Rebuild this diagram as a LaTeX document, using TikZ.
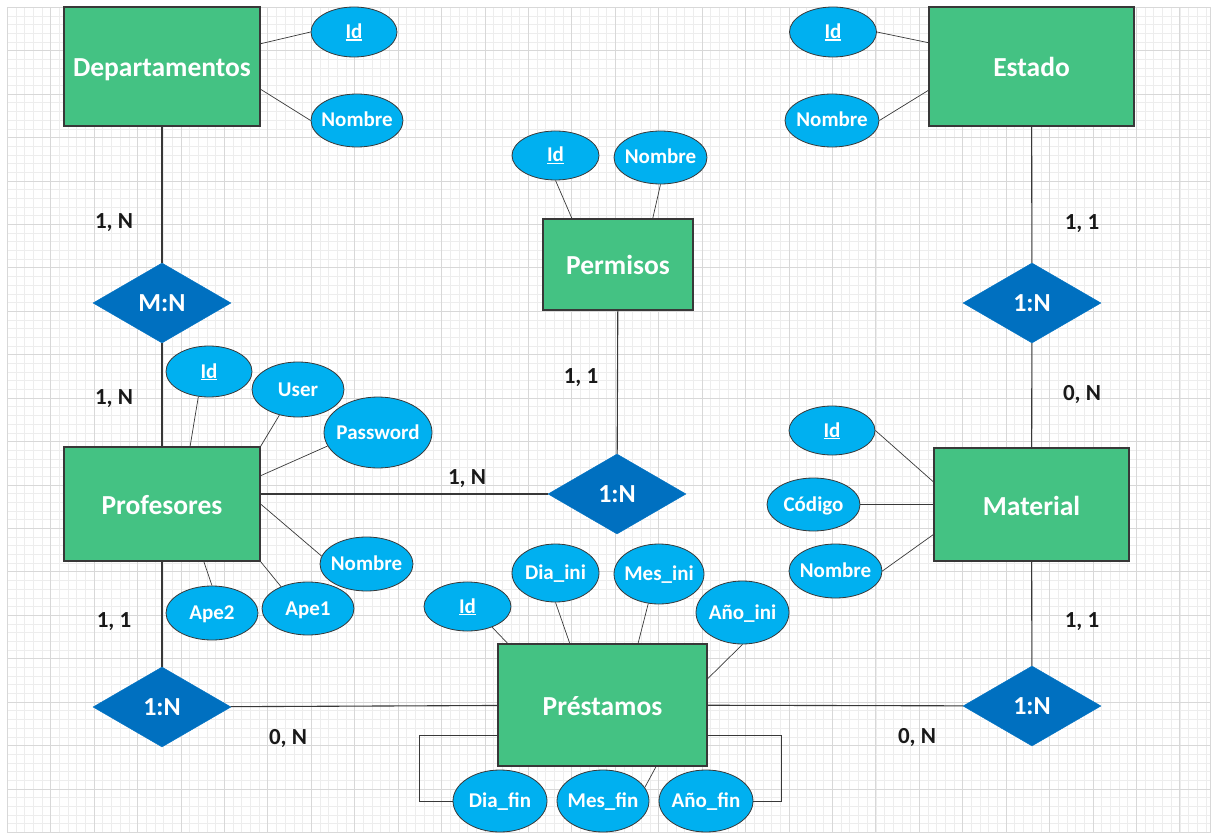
\documentclass[tikz,border=0pt]{standalone}
\usepackage{fontspec}
\setmainfont{Carlito}
\usetikzlibrary{shapes.geometric}
\definecolor{verde}{HTML}{44C283}
\definecolor{celeste}{HTML}{00B0F0}
\definecolor{azul}{HTML}{0070C0}
\definecolor{borde}{HTML}{383838}
\definecolor{rejilla}{HTML}{EDEDED}
\definecolor{rejillab}{HTML}{D8D8D8}
\newcommand{\etq}[1]{\makebox[0pt]{#1}}
\newcommand{\clave}[1]{\setbox0\hbox{#1}\rlap{\rule[-2.2pt]{\wd0}{1.3pt}}\box0}

\begin{document}
\begin{tikzpicture}[x=1pt,y=-1pt,
ent/.style={draw=borde,line width=1.2pt,fill=verde,text=white,inner sep=0pt,
  text height=21pt,text depth=0pt,font=\fontsize{27.5}{30}\selectfont\bfseries},
atr/.style={ellipse,draw=borde,line width=0.8pt,fill=celeste,text=white,inner sep=0pt,
  text height=13pt,text depth=0pt,font=\fontsize{21}{24}\selectfont\bfseries},
rel/.style={diamond,draw=azul,fill=azul,text=white,inner sep=0pt,
  minimum width=138pt,minimum height=80pt,font=\fontsize{26}{28}\selectfont\bfseries},
card/.style={text=black!90,text height=14pt,text depth=0pt,
  font=\fontsize{23}{25}\selectfont\bfseries},
lin/.style={draw=borde,line width=1.1pt},
atl/.style={draw=borde,line width=0.7pt},
gmin/.style={draw=rejilla,line width=0.8pt},
gmay/.style={draw=rejillab,line width=0.9pt}]
\useasboundingbox (0,0) rectangle (1213,837);
\def\gx{7.3} \def\gy{7.3} \def\gw{1210} \def\gh{832}
\def\gs{8.686}

% rejilla
\foreach \i in {0,...,138}
\draw[gmin] ({\gx+\i*\gs},\gy) -- ({\gx+\i*\gs},\gh);
\foreach \j in {0,...,94}
\draw[gmin] (\gx,{\gy+\j*\gs}) -- (\gw,{\gy+\j*\gs});
\foreach \i in {0,...,27}
\draw[gmay] ({\gx+5*\i*\gs},\gy) -- ({\gx+5*\i*\gs},\gh);
\foreach \j in {0,...,18}
\draw[gmay] (\gx,{\gy+5*\j*\gs}) -- (\gw,{\gy+5*\j*\gs});
\draw[gmay] (\gx,\gy) rectangle (\gw,\gh);

% entidades
\node[ent,minimum width=196pt,minimum height=119pt] (dep) at (162,66.5) {Departamentos};
\node[ent,minimum width=205pt,minimum height=119pt] (est) at (1031.5,66.5) {Estado};
\node[ent,minimum width=150pt,minimum height=91pt] (per) at (618,264.5) {Permisos};
\node[ent,minimum width=196pt,minimum height=114pt] (prof) at (162,504) {Profesores};
\node[ent,minimum width=195pt,minimum height=113pt] (mat) at (1031.5,504.5) {Material};
\node[ent,minimum width=209pt,minimum height=122pt] (pre) at (602.5,705) {Préstamos};

% relaciones
\node[rel] (mn) at (162,303) {M:N};
\node[rel] (ne) at (1032,303) {1:N};
\node[rel] (pn) at (617,494) {1:N};
\node[rel] (pl) at (162,707) {1:N};
\node[rel] (pr) at (1032,706) {1:N};

% atributos
\node[atr,minimum width=86pt,minimum height=50pt] (did) at (354,32) {\etq{\clave{Id}}};
\node[atr,minimum width=92pt,minimum height=53pt] (dnom) at (357,120.5) {\etq{Nombre}};
\node[atr,minimum width=87pt,minimum height=50pt] (eid) at (833,32) {\etq{\clave{Id}}};
\node[atr,minimum width=94pt,minimum height=53pt] (enom) at (832,120.5) {\etq{Nombre}};
\node[atr,minimum width=87pt,minimum height=49pt] (pid) at (555.5,155.5) {\etq{\clave{Id}}};
\node[atr,minimum width=93pt,minimum height=53pt] (pnom) at (660.5,157.5) {\etq{Nombre}};
\node[atr,minimum width=86pt,minimum height=51pt] (fid) at (209,371.5) {\etq{\clave{Id}}};
\node[atr,minimum width=92pt,minimum height=55pt] (fuser) at (298,389.5) {\etq{User}};
\node[atr,minimum width=108pt,minimum height=71pt] (fpass) at (378,432.5) {\etq{Password}};
\node[atr,minimum width=93pt,minimum height=54pt] (fnom) at (366.5,564) {\etq{Nombre}};
\node[atr,minimum width=92pt,minimum height=53pt] (fape1) at (308,608.5) {\etq{Ape1}};
\node[atr,minimum width=92pt,minimum height=54pt] (fape2) at (212,613) {\etq{Ape2}};
\node[atr,minimum width=86pt,minimum height=49pt] (mid) at (832,430.5) {\etq{\clave{Id}}};
\node[atr,minimum width=93pt,minimum height=53pt] (mcod) at (813.5,504.5) {\etq{Código}};
\node[atr,minimum width=93pt,minimum height=54pt] (mnom) at (835.5,571) {\etq{Nombre}};
\node[atr,minimum width=87pt,minimum height=49pt] (rid) at (467.5,606.5) {\etq{\clave{Id}}};
\node[atr,minimum width=87pt,minimum height=58pt] (rdini) at (555.5,573) {\etq{Dia\_ini}};
\node[atr,minimum width=90pt,minimum height=60pt] (rmini) at (659,574) {\etq{Mes\_ini}};
\node[atr,minimum width=93pt,minimum height=63pt] (raini) at (742.5,612.5) {\etq{Año\_ini}};
\node[atr,minimum width=94pt,minimum height=62pt] (rdfin) at (500,801) {\etq{Dia\_fin}};
\node[atr,minimum width=92pt,minimum height=62pt] (rmfin) at (603,801) {\etq{Mes\_fin}};
\node[atr,minimum width=94pt,minimum height=62pt] (rafin) at (706,801) {\etq{Año\_fin}};

% cardinalidades
\node[card] (c1) at (114,222) {1, N};
\node[card] (c2) at (114,397) {1, N};
\node[card] (c3) at (114,620) {1, 1};
\node[card] (c4) at (288,737) {0, N};
\node[card] (c5) at (581,376) {1, 1};
\node[card] (c6) at (467,477) {1, N};
\node[card] (c7) at (1082,223) {1, 1};
\node[card] (c8) at (1082,393) {0, N};
\node[card] (c9) at (1082,620) {1, 1};
\node[card] (c10) at (917,736) {0, N};

% lineas de relacion
\draw[lin] (dep) -- (mn);
\draw[lin] (mn) -- (prof);
\draw[lin] (prof) -- (pl);
\draw[lin] (pl) -- (pre);
\draw[lin] (pre) -- (pr);
\draw[lin] (est) -- (ne);
\draw[lin] (ne) -- (mat);
\draw[lin] (mat) -- (pr);
\draw[lin] (per) -- (pn);
\draw[lin] (prof.east |- pn) -- (pn);

% lineas de atributo
\draw[atl] (dep.13) -- (did.180);
\draw[atl] (dep.-13) -- (dnom.180);
\draw[atl] (est.167) -- (eid.0);
\draw[atl] (est.193) -- (enom.0);
\draw[atl] (per.135) -- (pid.south);
\draw[atl] (per.53) -- (pnom.south);
\draw[atl] (prof.64) -- (fid.-113);
\draw[atl] (prof.north east) -- (fuser.-126);
\draw[atl] (prof.16) -- (fpass.195);
\draw[atl] (prof.east) -- (fnom.170);
\draw[atl] (prof.south east) -- (fape1.141);
\draw[atl] (prof.-54) -- (fape2.north);
\draw[atl] (mat.167) -- (mid.east);
\draw[atl] (mat.west) -- (mcod.east);
\draw[atl] (mat.197) -- (mnom.east);
\draw[atl] (pre.147) -- (rid.-40);
\draw[atl] (pre.118) -- (rdini.south);
\draw[atl] (pre.60) -- (rmini.-110);
\draw[atl] (pre.14) -- (raini.south);
\draw[atl] (pre.-49) -- (rmfin.18);
\draw[atl] (pre.196) -- ++(-78,0) |- (rdfin);
\draw[atl] (pre.-16) -- ++(74,0) |- (rafin);
\end{tikzpicture}
\end{document}
